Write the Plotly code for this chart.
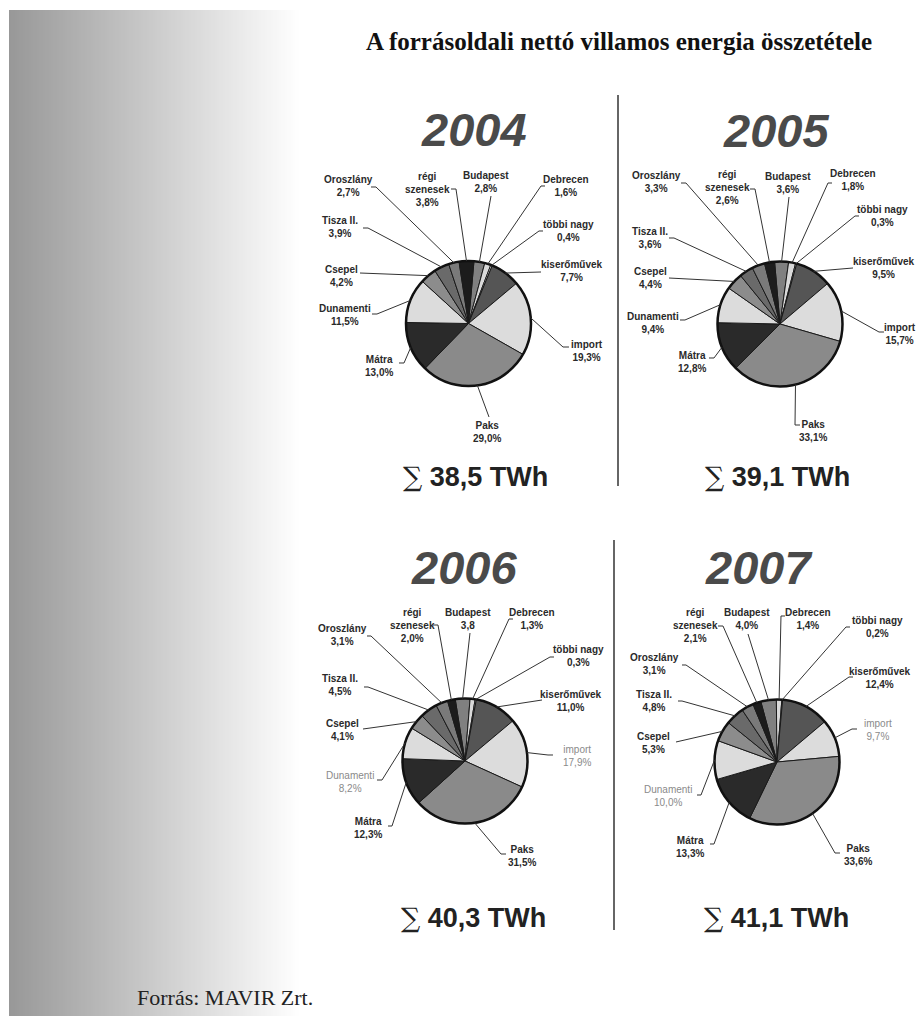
import math
import plotly.graph_objects as go

W, H = 917, 1019

# --- data -------------------------------------------------------------------
sources = ["Budapest", "Debrecen", "többi nagy", "kiserőművek", "import", "Paks",
           "Mátra", "Dunamenti", "Csepel", "Tisza II.", "Oroszlány", "régi szenesek"]

share_2004 = [2.8, 1.6, 0.4, 7.7, 19.3, 29.0, 13.0, 11.5, 4.2, 3.9, 2.7, 3.8]
share_2005 = [3.6, 1.8, 0.3, 9.5, 15.7, 33.1, 12.8, 9.4, 4.4, 3.6, 3.3, 2.6]
share_2006 = [3.8, 1.3, 0.3, 11.0, 17.9, 31.5, 12.3, 8.2, 4.1, 4.5, 3.1, 2.0]
share_2007 = [4.0, 1.4, 0.2, 12.4, 9.7, 33.6, 13.3, 10.0, 5.3, 4.8, 3.1, 2.1]

years = [2004, 2005, 2006, 2007]
totals_twh = [38.5, 39.1, 40.3, 41.1]
shares = [share_2004, share_2005, share_2006, share_2007]

# the 2006 Budapest figure is printed without a percent sign
label_overrides = {(2006, "Budapest"): "3,8"}

# --- styling ------------------------------------------------------------------
slice_colors = ["#808080", "#d9d9d9", "#f4f4f4", "#555555", "#dcdcdc", "#8a8a8a",
                "#2a2a2a", "#dcdcdc", "#8c8c8c", "#6a6a6a", "#7a7a7a", "#1c1c1c"]

PIE_R = 62.5
panels = {
    2004: dict(center=(468.5, 323.5), rotation=5, year_xy=(474, 129), sum_xy=(475, 477)),
    2005: dict(center=(780, 324), rotation=-5, year_xy=(776, 130), sum_xy=(777, 477)),
    2006: dict(center=(465, 761), rotation=-9, year_xy=(464, 567), sum_xy=(473, 917)),
    2007: dict(center=(777, 762), rotation=-15, year_xy=(758, 567), sum_xy=(776, 917)),
}

# label text centre and the leader-line points next to the label (pixels)
label_layout = {
    2004: {
        "Budapest": ((486, 182), [(491, 196)]),
        "Debrecen": ((566, 185.5), [(541, 186), (545, 186)]),
        "többi nagy": ((568, 231), [(539, 231), (543, 231)]),
        "kiserőművek": ((572, 271), [(541, 272)]),
        "import": ((587, 350.5), [(563, 347), (569, 347)]),
        "Paks": ((487, 432), [(489, 417)]),
        "Mátra": ((379, 366), [(404, 363), (399, 363)]),
        "Dunamenti": ((345, 315.5), [(377, 314), (372, 314)]),
        "Csepel": ((341, 276), [(360, 273)]),
        "Tisza II.": ((340, 226.5), [(368, 228), (363, 228)]),
        "Oroszlány": ((348, 185.5), [(376, 187), (371, 187)]),
        "régi szenesek": ((427, 189), [(456, 189), (451, 189)]),
    },
    2005: {
        "Budapest": ((788, 183), [(789, 197)]),
        "Debrecen": ((853, 180), [(828, 183), (832, 183)]),
        "többi nagy": ((882, 215.5), [(855, 216), (859, 216)]),
        "kiserőművek": ((884, 267.5), [(853, 268)]),
        "import": ((900, 334), [(879, 332), (884, 332)]),
        "Paks": ((813, 430.5), [(795, 425), (800, 425)]),
        "Mátra": ((692, 361.5), [(714, 358), (709, 358)]),
        "Dunamenti": ((653, 322.5), [(685, 320), (680, 320)]),
        "Csepel": ((650, 277.5), [(669, 278)]),
        "Tisza II.": ((650, 238), [(674, 238), (669, 238)]),
        "Oroszlány": ((656, 182), [(686, 183), (681, 183)]),
        "régi szenesek": ((727, 188), [(755, 189), (750, 189)]),
    },
    2006: {
        "Budapest": ((468, 618.5), [(470, 633)]),
        "Debrecen": ((532, 618.5), [(509, 619), (513, 619)]),
        "többi nagy": ((578, 656), [(550, 657), (554, 657)]),
        "kiserőművek": ((571, 700.5), [(542, 700)]),
        "import": ((577, 756), [(548, 755), (553, 755)]),
        "Paks": ((522, 855.5), [(501, 854), (506, 854)]),
        "Mátra": ((368, 828), [(392, 826), (388, 826)]),
        "Dunamenti": ((350, 782), [(382, 780), (377, 780)]),
        "Csepel": ((342, 730), [(363, 729)]),
        "Tisza II.": ((340, 685), [(368, 687), (364, 687)]),
        "Oroszlány": ((342, 634.5), [(371, 636), (367, 636)]),
        "régi szenesek": ((412, 625), [(438, 625), (433, 625)]),
    },
    2007: {
        "Budapest": ((747, 618.5), [(748, 634)]),
        "Debrecen": ((808, 618.5), [(781, 616), (785, 616)]),
        "többi nagy": ((877, 626.5), [(846, 627), (850, 627)]),
        "kiserőművek": ((880, 678), [(849, 677), (853, 677)]),
        "import": ((878, 730), [(852, 729), (857, 729)]),
        "Paks": ((858, 855), [(835, 853), (840, 853)]),
        "Mátra": ((690, 847), [(714, 844), (710, 844)]),
        "Dunamenti": ((668, 796), [(701, 795), (697, 795)]),
        "Csepel": ((653, 742.5), [(676, 742)]),
        "Tisza II.": ((654, 700.5), [(682, 701), (678, 701)]),
        "Oroszlány": ((654, 663.5), [(686, 665), (682, 665)]),
        "régi szenesek": ((695, 625), [(723, 626), (718, 626)]),
    },
}

# labels printed in a lighter, regular weight
faint_labels = {(2006, "import"), (2006, "Dunamenti"), (2007, "import"), (2007, "Dunamenti")}

LABEL_FONT = "Liberation Sans, Arial, sans-serif"


def px(x):
    return x / W


def py(y):
    return 1 - y / H


def fmt(v):
    return f"{v:.1f}".replace(".", ",")


fig = go.Figure()
shapes = []
annotations = []

# grey gradient band on the left
g_left, g_right, g_top, g_bottom = 9, 301, 10, 1016
n_strips = 146
for i in range(n_strips):
    x0 = g_left + (g_right - g_left) * i / n_strips
    x1 = g_left + (g_right - g_left) * (i + 1) / n_strips + 0.6
    t = i / (n_strips - 1)
    c = int(round(152 + (255 - 152) * t))
    shapes.append(dict(type="rect", xref="paper", yref="paper",
                       x0=px(x0), x1=px(x1), y0=py(g_bottom), y1=py(g_top),
                       fillcolor=f"rgb({c},{c},{c})", line=dict(width=0), layer="below"))

# separators between the columns
shapes.append(dict(type="line", xref="paper", yref="paper", x0=px(618), x1=px(618),
                   y0=py(95), y1=py(486), line=dict(color="#333333", width=1.5)))
shapes.append(dict(type="line", xref="paper", yref="paper", x0=px(614), x1=px(614),
                   y0=py(540), y1=py(930), line=dict(color="#333333", width=1.5)))

for year, total, share in zip(years, totals_twh, shares):
    p = panels[year]
    cx, cy = p["center"]
    rot = p["rotation"]

    fig.add_trace(go.Pie(
        values=share, labels=sources, sort=False, direction="clockwise", rotation=rot,
        marker=dict(colors=slice_colors, line=dict(color="#1a1a1a", width=1)),
        textinfo="none", hoverinfo="label+percent", showlegend=False,
        domain=dict(x=[px(cx - PIE_R), px(cx + PIE_R)], y=[py(cy + PIE_R), py(cy - PIE_R)]),
    ))

    # heavier outer rim
    shapes.append(dict(type="circle", xref="paper", yref="paper",
                       x0=px(cx - PIE_R), x1=px(cx + PIE_R), y0=py(cy + PIE_R), y1=py(cy - PIE_R),
                       line=dict(color="#111111", width=2.5)))

    tot = sum(share)
    cum = 0.0
    for name, v in zip(sources, share):
        mid = (cum + v / 2) / tot * 360 + rot
        cum += v
        a = math.radians(mid)
        ex, ey = cx + PIE_R * math.sin(a), cy - PIE_R * math.cos(a)
        (tx, ty), leg = label_layout[year][name]
        pts = [(ex, ey)] + leg
        path = "M " + " L ".join(f"{px(x):.5f},{py(y):.5f}" for x, y in pts)
        shapes.append(dict(type="path", xref="paper", yref="paper", path=path,
                           line=dict(color="#333333", width=1)))

        pct = label_overrides.get((year, name), fmt(v) + "%")
        head = "régi<br>szenesek" if name == "régi szenesek" else name
        faint = (year, name) in faint_labels
        text = f"{head}<br>{pct}" if faint else f"<b>{head}<br>{pct}</b>"
        annotations.append(dict(
            x=px(tx), y=py(ty), xref="paper", yref="paper", text=text, showarrow=False,
            xanchor="center", yanchor="middle", align="center",
            font=dict(family=LABEL_FONT, size=10, color="#8a8a8a" if faint else "#2a2a2a"),
        ))

    # year heading
    yx, yy = p["year_xy"]
    annotations.append(dict(
        x=px(yx), y=py(yy), xref="paper", yref="paper", text=f"<b><i>{year}</i></b>",
        showarrow=False, xanchor="center", yanchor="middle",
        font=dict(family="Liberation Sans Narrow, Arial Narrow, Liberation Sans, Arial",
                  size=47, color="#4a4a4a"),
    ))

    # total generation
    sx, sy = p["sum_xy"]
    annotations.append(dict(
        x=px(sx), y=py(sy), xref="paper", yref="paper",
        text=f"<span style=\"font-family:'DejaVu Serif',serif;font-weight:normal\">∑</span> <b>{fmt(total)} TWh</b>",
        showarrow=False, xanchor="center", yanchor="middle",
        font=dict(family=LABEL_FONT, size=27, color="#222222"),
    ))

annotations.append(dict(
    x=px(619), y=py(42), xref="paper", yref="paper",
    text="<b>A forrásoldali nettó villamos energia összetétele</b>",
    showarrow=False, xanchor="center", yanchor="middle",
    font=dict(family="Liberation Serif, Times New Roman, serif", size=25, color="#111111"),
))
annotations.append(dict(
    x=px(225), y=py(997), xref="paper", yref="paper",
    text="Forrás: MAVIR Zrt.", showarrow=False, xanchor="center", yanchor="middle",
    font=dict(family="Liberation Serif, Times New Roman, serif", size=22, color="#222222"),
))

fig.update_layout(
    width=W, height=H, autosize=False,
    margin=dict(l=0, r=0, t=0, b=0),
    paper_bgcolor="white", plot_bgcolor="white",
    shapes=shapes, annotations=annotations,
)

fig.write_html("out.html")
